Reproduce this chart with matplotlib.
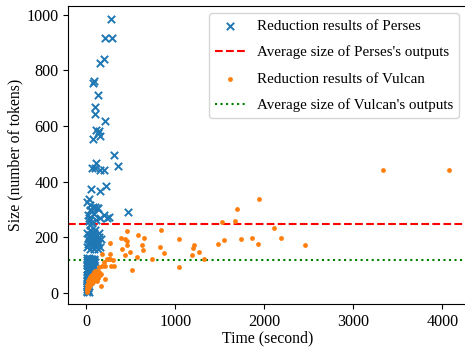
import matplotlib
matplotlib.use("Agg")
import matplotlib.pyplot as plt

plt.rcParams['font.family'] = ['Liberation Serif', 'DejaVu Serif']
plt.rcParams['font.size'] = 10.8

# Perses reduction results (time in seconds, size in tokens)
perses_time = [277, 213, 291, 194, 157, 90, 75, 127, 101, 93, 205, 138, 157, 75, 127, 112,
               306, 355, 112, 64, 149, 194, 101, 56, 157, 224, 26, 8, 56, 127, 463, 157, 232,
               40, 70, 20, 90, 30, 60, 110, 45, 45, 101, 120, 194, 250, 26, 64,
               10, 25, 35, 48, 60, 72, 85, 95, 110, 120, 130, 140, 150, 160, 20, 40, 55, 65,
               80, 100, 115, 135, 15, 30, 45, 90, 105, 125, 145, 70, 5, 50,
               2, 5, 8, 3, 10, 6, 12, 4, 15, 9, 18, 7, 20, 11, 25, 14, 30, 17, 35, 22, 40, 28,
               45, 33, 50, 38, 55, 60, 65, 42, 48, 52, 58, 62, 68, 75, 80, 27, 32, 36, 24, 19,
               13, 16, 26, 44, 54, 70, 85, 90, 1, 3, 6, 10, 12, 22, 31, 47, 66, 95]
perses_size = [984, 918, 916, 840, 826, 762, 756, 711, 669, 645, 619, 581, 566, 554, 575, 585,
               497, 455, 469, 449, 443, 443, 449, 373, 368, 385, 337, 328, 297, 305, 292, 269, 269,
               300, 310, 280, 285, 260, 255, 262, 245, 316, 310, 305, 280, 274, 269, 250,
               215, 200, 225, 190, 205, 180, 215, 195, 170, 210, 185, 200, 165, 195, 175, 160, 185, 170,
               160, 228, 190, 175, 195, 185, 210, 175, 205, 160, 215, 195, 165, 222,
               8, 15, 22, 30, 35, 42, 48, 55, 60, 65, 70, 78, 82, 88, 92, 97, 100, 105, 110, 115, 118, 122,
               120, 125, 124, 112, 118, 122, 120, 95, 85, 75, 100, 110, 105, 115, 122, 68, 55, 45, 38, 28,
               18, 10, 5, 60, 50, 90, 100, 120, 100, 120, 110, 125, 5, 48, 80, 105, 70, 110]

# Vulcan reduction results
vulcan_time = [3339, 4073, 1936, 1690, 1528, 1670, 2111, 2183, 2452, 1925, 1861, 1738, 1551, 1480,
               1326, 1270, 1214, 1200, 1192, 1046, 1035, 871, 833, 830, 740, 647, 639, 625, 583, 572,
               508, 490, 460, 452, 452, 430, 392, 396, 430, 269, 266, 269, 306, 280, 228, 176, 202,
               176, 142, 205, 168, 138, 109, 250, 299, 205,
               10, 15, 20, 25, 30, 35, 40, 45, 50, 55, 60, 70, 80, 90, 100, 120, 140, 150, 18, 28,
               38, 48, 58, 68, 78, 88, 110, 130, 12, 22, 32, 42, 62, 75, 95, 115, 8, 5, 160, 125]
vulcan_size = [441, 443, 339, 302, 256, 260, 235, 196, 172, 176, 199, 195, 191, 178,
               122, 149, 172, 163, 135, 195, 95, 144, 225, 165, 123, 197, 154, 173, 208, 129,
               83, 146, 222, 173, 188, 193, 197, 160, 137, 180, 139, 122, 96, 96, 122, 142, 112,
               96, 92, 51, 25, 64, 70, 124, 118, 96,
               12, 20, 28, 35, 40, 45, 50, 55, 60, 62, 66, 70, 72, 75, 78, 80, 75, 65, 15, 22,
               30, 38, 42, 48, 55, 60, 62, 68, 30, 42, 52, 58, 35, 40, 50, 45, 5, 18, 70, 55]

perses_avg = 248
vulcan_avg = 118

labels = ["Reduction results of Perses", "Average size of Perses's outputs",
          "Reduction results of Vulcan", "Average size of Vulcan's outputs"]

fig = plt.figure(figsize=(4.65, 3.48), dpi=100)
ax = fig.add_axes([0.147, 0.126, 0.857, 0.857])

h1 = ax.scatter(perses_time, perses_size, marker='x', s=28, color='#1f77b4', linewidths=1.4,
                label=labels[0], zorder=3)
h2 = ax.axhline(perses_avg, color='red', linestyle='--', linewidth=1.5, label=labels[1])
h3 = ax.scatter(vulcan_time, vulcan_size, marker='o', s=12, color='#ff7f0e', linewidths=0,
                label=labels[2], zorder=3)
h4 = ax.axhline(vulcan_avg, color='green', linestyle=':', linewidth=1.5, label=labels[3])

ax.set_xlim(-203, 4276)
ax.set_ylim(-40, 1032)
ax.set_xticks([0, 1000, 2000, 3000, 4000])
ax.set_yticks([0, 200, 400, 600, 800, 1000])
ax.tick_params(labelsize=11.6)
ax.set_xlabel("Time (second)", labelpad=0.5, fontsize=11.3)
ax.set_ylabel("Size (number of tokens)", fontsize=11.3, labelpad=2)
ax.legend(handles=[h1, h2, h3, h4], loc='upper right', scatterpoints=1, labelspacing=0.85)

fig.savefig("out.png", dpi=100)
